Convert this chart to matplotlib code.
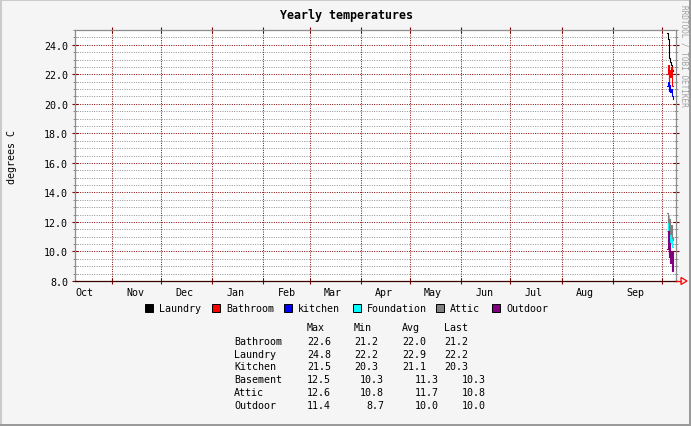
import pandas as pd
import matplotlib
matplotlib.use("Agg")
import matplotlib.pyplot as plt
import matplotlib.dates as mdates
from matplotlib.patches import Rectangle, Polygon
from matplotlib.lines import Line2D

# ================================
# Data
# ================================

times = pd.to_datetime([
    "2013-10-04 00:00", "2013-10-04 12:00", "2013-10-05 00:00", "2013-10-05 12:00",
    "2013-10-06 00:00", "2013-10-06 12:00", "2013-10-07 00:00", "2013-10-07 12:00",
])

laundry = [24.8, 24.4, 23.9, 23.1, 22.8, 22.6, 22.3, 22.2]
bathroom = [22.0, 22.6, 21.4, 22.3, 21.8, 22.5, 21.2, 21.2]
kitchen = [21.2, 21.5, 20.9, 21.3, 20.8, 21.0, 20.5, 20.3]
foundation = [11.4, 12.5, 11.0, 11.9, 10.6, 11.6, 10.3, 10.3]
attic = [12.6, 12.0, 11.4, 12.2, 11.2, 11.8, 10.9, 10.8]
outdoor = [10.2, 11.4, 9.6, 10.6, 9.2, 10.0, 8.7, 10.0]

series_names = ["Laundry", "Bathroom", "kitchen", "Foundation", "Attic", "Outdoor"]
series_values = [laundry, bathroom, kitchen, foundation, attic, outdoor]
series_colors = ["#000000", "#ff0000", "#0000ff", "#00ffff", "#808080", "#800080"]

stat_names = ["Bathroom", "Laundry", "Kitchen", "Basement", "Attic", "Outdoor"]
stat_max = [22.6, 24.8, 21.5, 12.5, 12.6, 11.4]
stat_min = [21.2, 22.2, 20.3, 10.3, 10.8, 8.7]
stat_avg = [22.0, 22.9, 21.1, 11.3, 11.7, 10.0]
stat_last = [21.2, 22.2, 20.3, 10.3, 10.8, 10.0]
stat_headers = ["Max", "Min", "Avg", "Last"]

x_start = pd.Timestamp("2012-10-09 14:00")
x_end = pd.Timestamp("2013-10-09 12:00")

# ================================
# Figure layout (pixel helpers)
# ================================

W, H = 691, 427
BG = "#f5f5f5"
MONO = "DejaVu Sans Mono"
FS = 7.2


def fx(px):
    return px / W


def fy(py):
    return 1 - py / H


fig = plt.figure(figsize=(W / 100, H / 100), dpi=100, facecolor=BG)
ax = fig.add_axes([fx(75), fy(282), fx(676) - fx(75), fy(31) - fy(282)])
ax.set_facecolor("white")

# data lines
for vals, col in zip(series_values, series_colors):
    ax.plot(times, vals, drawstyle="steps-post", color=col, linewidth=0.8)

ax.set_xlim(x_start, x_end)
ax.set_ylim(8, 25)

# ticks
ax.xaxis.set_major_locator(mdates.MonthLocator())
ax.xaxis.set_major_formatter(plt.NullFormatter())
ax.xaxis.set_minor_locator(mdates.MonthLocator(bymonthday=15))
ax.xaxis.set_minor_formatter(mdates.DateFormatter("%b"))
ax.yaxis.set_major_locator(plt.MultipleLocator(2))
ax.yaxis.set_minor_locator(plt.MultipleLocator(0.5))
ax.yaxis.set_major_formatter(plt.FormatStrFormatter("%.1f"))

ax.tick_params(which="major", direction="inout", length=4, width=0.8,
               color="#800000", top=True, right=True, labelsize=FS, pad=3)
ax.tick_params(axis="y", which="minor", direction="inout", length=3, width=0.7,
               color="#909090", right=True)
ax.tick_params(axis="x", which="minor", length=0, labelsize=FS, pad=4)
for lab in ax.get_xticklabels(which="both") + ax.get_yticklabels():
    lab.set_family(MONO)

# grid
ax.set_axisbelow(True)
ax.grid(True, which="major", color="#800000", linestyle=(0, (1, 1.4)), linewidth=0.7)
ax.grid(True, which="minor", axis="y", color="#909090", linestyle=(0, (1, 1.4)), linewidth=0.7)
ax.grid(False, which="minor", axis="x")

for side in ["left", "top", "right"]:
    ax.spines[side].set_color("#8c8c8c")
    ax.spines[side].set_linewidth(0.9)
ax.spines["bottom"].set_color("#3a0000")
ax.spines["bottom"].set_linewidth(0.9)

# axis arrow at bottom right
fig.add_artist(Line2D([fx(676), fx(681)], [fy(282), fy(282)], color="#ff0000", linewidth=0.9))
fig.add_artist(Polygon([[fx(681), fy(278.5)], [fx(681), fy(285.5)], [fx(687), fy(282)]],
                       closed=True, fill=False, edgecolor="#ff0000", linewidth=0.9))

# titles
fig.text(fx(346), fy(15), "Yearly temperatures", family=MONO, weight="bold",
         fontsize=8.4, ha="center", va="center")
fig.text(fx(12), fy(157), "degrees C", family=MONO, fontsize=FS,
         rotation=90, ha="center", va="center")
fig.text(fx(684), fy(5), "RRDTOOL / TOBI OETIKER", family=MONO, fontsize=5.6,
         color="#a0a0a0", rotation=270, ha="center", va="top")

# legend
legend_box_x = [145, 212, 284, 353, 436, 492]
for name, col, bx in zip(series_names, series_colors, legend_box_x):
    fig.add_artist(Rectangle((fx(bx), fy(313)), fx(8), 8 / H, facecolor=col,
                             edgecolor="black", linewidth=0.7))
    fig.text(fx(bx + 14), fy(308.5), name, family=MONO, fontsize=FS, va="center")

# stats table
header_x = [307, 354, 402, 444]
for hx, htxt in zip(header_x, stat_headers):
    fig.text(fx(hx), fy(328), htxt, family=MONO, fontsize=FS, va="center")

row_y = [342, 355, 367.5, 380.5, 393.5, 406.5]
for i, name in enumerate(stat_names):
    ends = [331, 378, 426, 468] if i < 3 else [331, 384, 439, 486]
    vals = [stat_max[i], stat_min[i], stat_avg[i], stat_last[i]]
    fig.text(fx(234), fy(row_y[i]), name, family=MONO, fontsize=FS, va="center")
    for ex, v in zip(ends, vals):
        fig.text(fx(ex), fy(row_y[i]), f"{v:.1f}", family=MONO, fontsize=FS,
                 va="center", ha="right")

# 3D border of the image
fig.add_artist(Rectangle((0, fy(2)), 1, 2 / H, color="#cbcbcb", linewidth=0))
fig.add_artist(Rectangle((0, 0), fx(2), 1, color="#cbcbcb", linewidth=0))
fig.add_artist(Rectangle((fx(689), 0), fx(2), 1, color="#9a9a9a", linewidth=0))
fig.add_artist(Rectangle((0, 0), 1, 2 / H, color="#9a9a9a", linewidth=0))

fig.savefig("out.png", dpi=100, facecolor=BG)
